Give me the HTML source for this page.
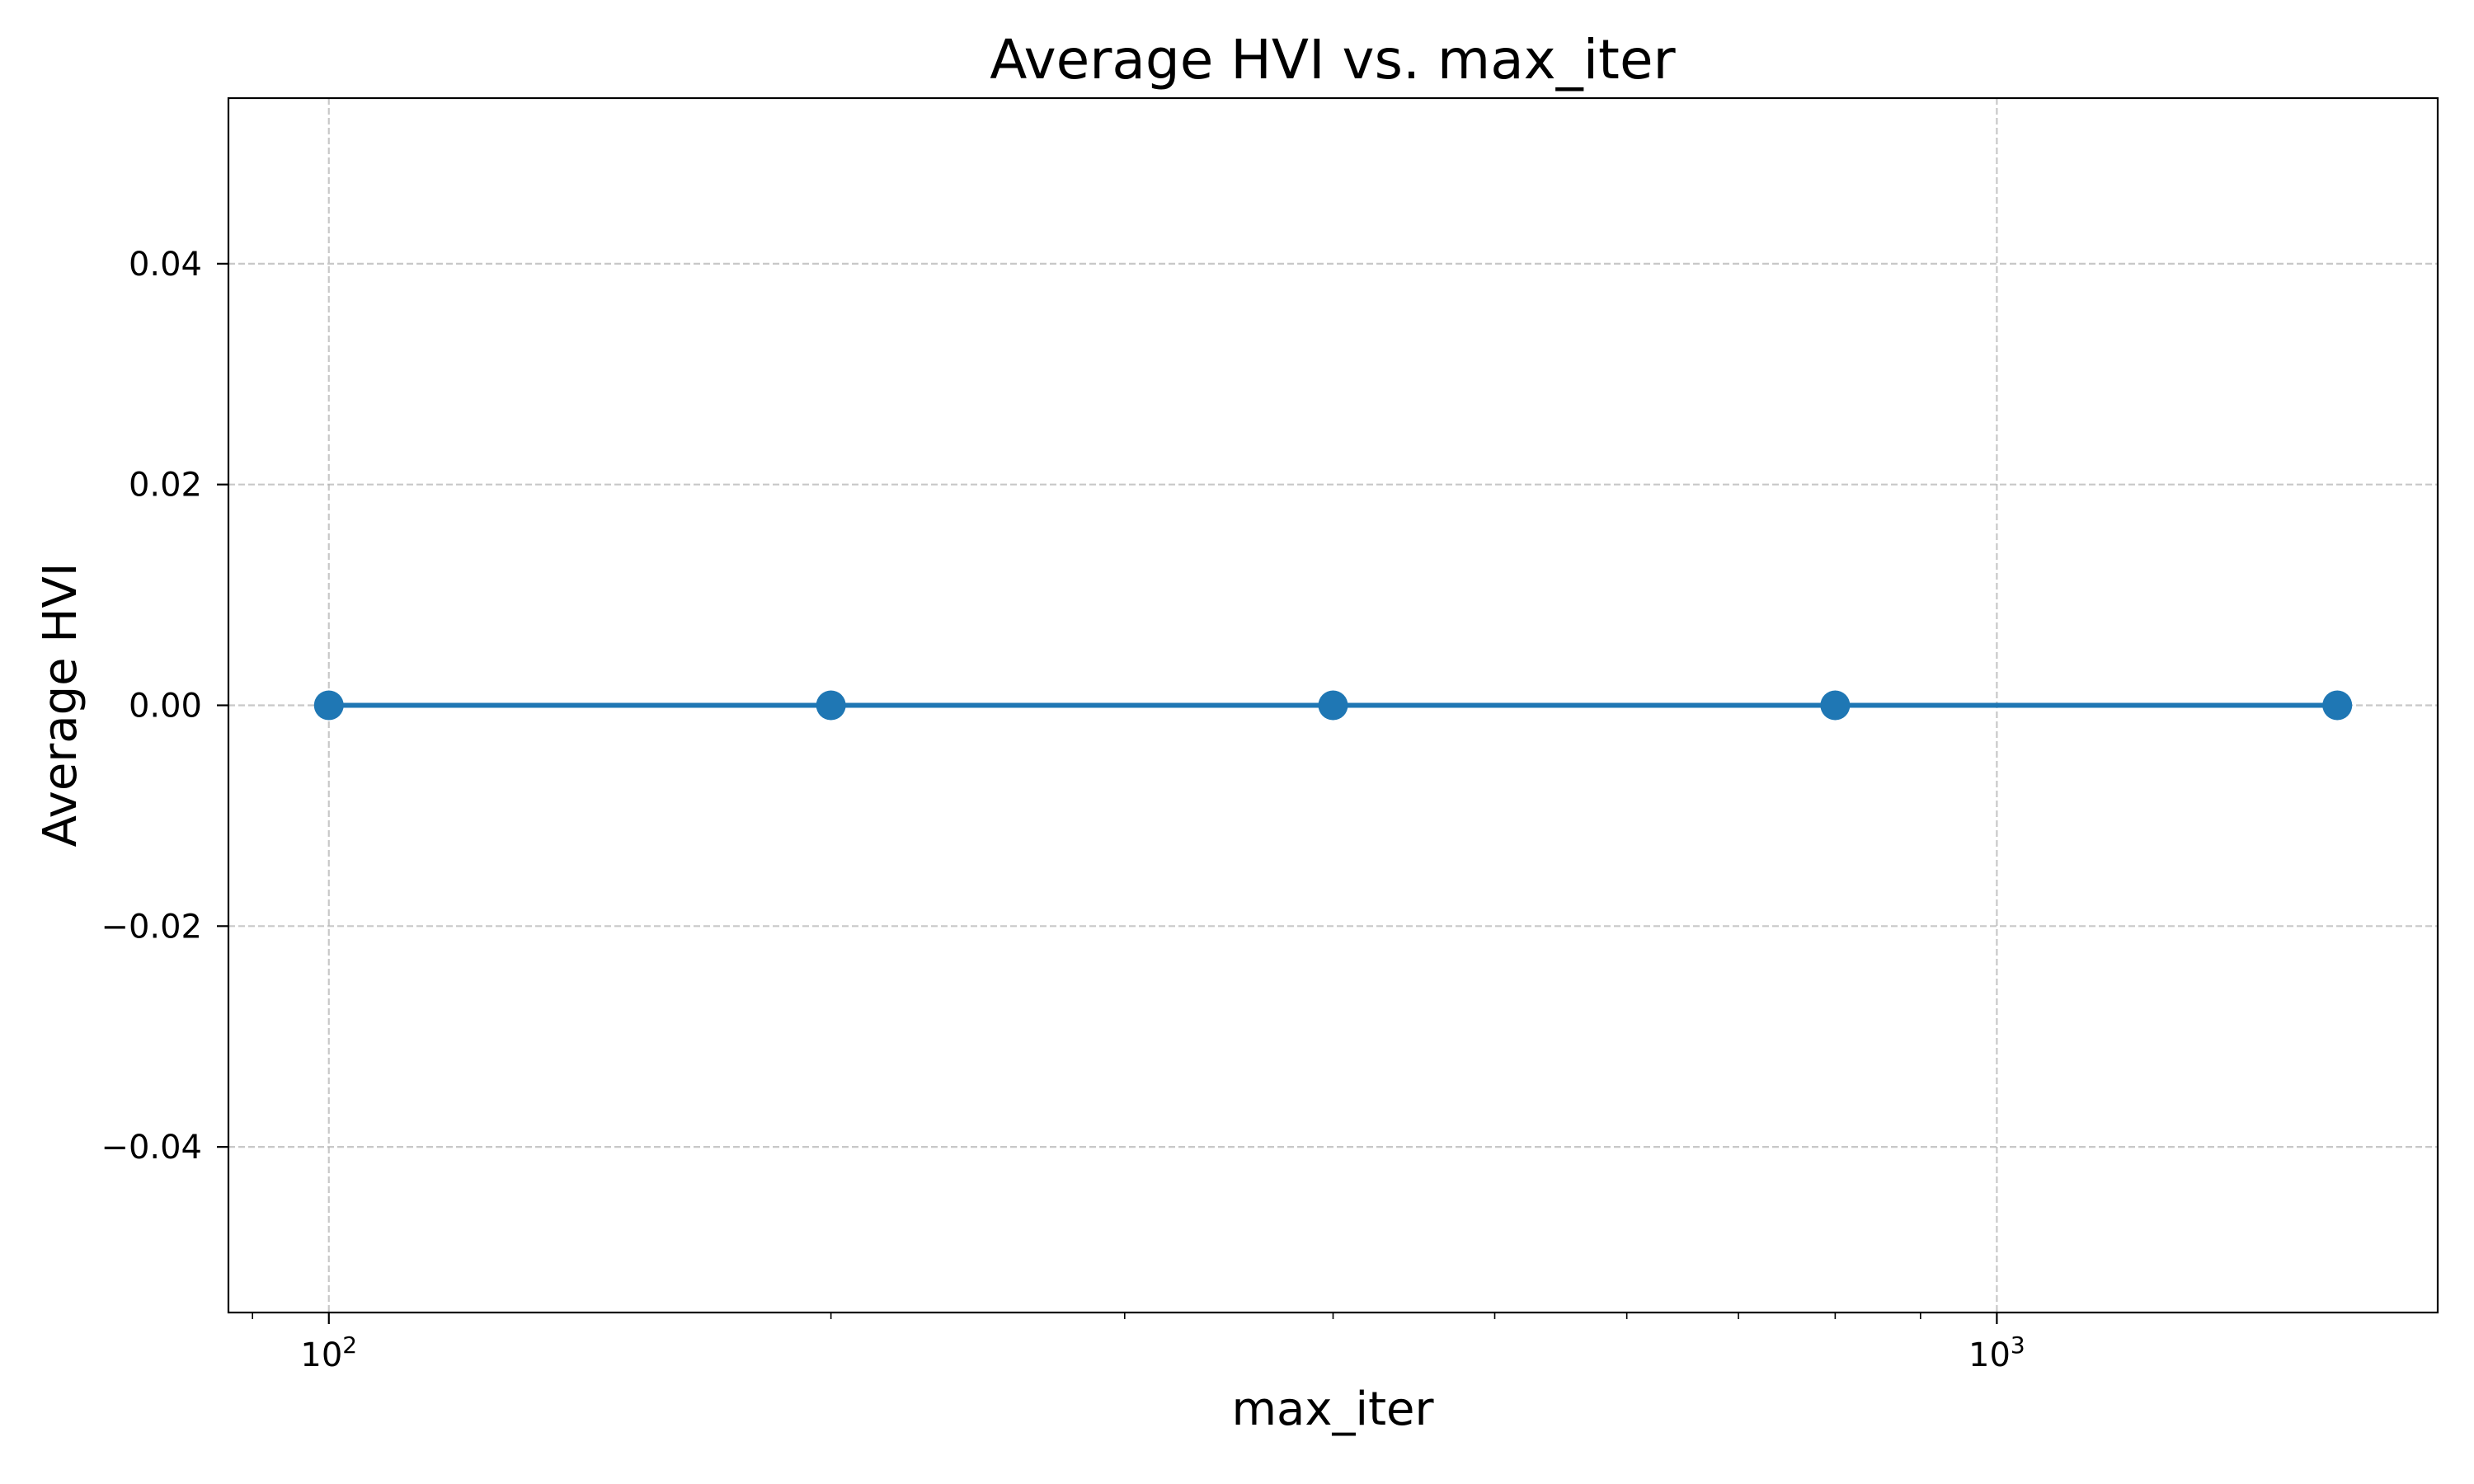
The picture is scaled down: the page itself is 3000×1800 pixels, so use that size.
<!DOCTYPE html>
<html><head><meta charset="utf-8"><style>
html,body{margin:0;padding:0;background:#fff;}
svg{display:block;font-family:"DejaVu Sans","Liberation Sans",sans-serif;}
</style></head><body>
<svg id="chart" width="3000" height="1800" viewBox="0 0 3000 1800">
<rect x="0" y="0" width="3000" height="1800" fill="#fff"/>
<g id="grid"></g>
<g id="ticks"></g>
<g id="series"></g>
<rect x="277" y="119" width="2679" height="1473" fill="none" stroke="#000" stroke-width="2.2"/>
<text x="1616" y="95" font-size="66" text-anchor="middle">Average HVI vs. max_iter</text>
<text x="1616" y="1728" font-size="56" text-anchor="middle">max_iter</text>
<text transform="translate(92,855) rotate(-90)" font-size="56" text-anchor="middle">Average HVI</text>
</svg>
<script>
const xValues=[100,200,400,800,1600];
const yValues=[0,0,0,0,0];
const yTicks=[-0.04,-0.02,0,0.02,0.04];
const yTickLabels=["\u22120.04","\u22120.02","0.00","0.02","0.04"];
const xMajorTicks=[100,1000];
const xMajorLabels=["2","3"];
const L=277,R=2956,T=119,B=1592;
const lmin=Math.log10(100)-0.0602, lmax=Math.log10(1600)+0.0602;
const ymin=-0.055,ymax=0.055;
function sx(v){return L+(Math.log10(v)-lmin)/(lmax-lmin)*(R-L);}
function sy(v){return B-(v-ymin)/(ymax-ymin)*(B-T);}
const NS="http://www.w3.org/2000/svg";
function mk(tag,attrs,parent){const e=document.createElementNS(NS,tag);for(const k in attrs)e.setAttribute(k,attrs[k]);parent.appendChild(e);return e;}
const grid=document.getElementById('grid'),ticks=document.getElementById('ticks'),ser=document.getElementById('series');
yTicks.forEach((v,i)=>{const y=sy(v);
 const g=mk('line',{x1:L,x2:R,y1:y,y2:y,stroke:'#b0b0b0','stroke-width':2.2,'stroke-dasharray':'8,4','stroke-opacity':0.7},grid);
 
 
 const t=mk('line',{x1:L-14,x2:L,y1:y,y2:y,stroke:'#000','stroke-width':2.2},ticks);
 
 
 const tx=mk('text',{x:L-32,y:y+14,'font-size':40,'text-anchor':'end'},ticks);tx.textContent=yTickLabels[i];
 
 
});
xMajorTicks.forEach((v,i)=>{const x=sx(v);
 const g=mk('line',{x1:x,x2:x,y1:T,y2:B,stroke:'#b0b0b0','stroke-width':2.2,'stroke-dasharray':'8,4','stroke-opacity':0.7},grid);
 
 
 const t=mk('line',{x1:x,x2:x,y1:B,y2:B+14,stroke:'#000','stroke-width':2.2},ticks);
 
 
 const tx=mk('text',{x:x,y:1657,'font-size':40,'text-anchor':'middle'},ticks);
 
 
 const a=mk('tspan',{},tx);a.textContent='10';
 const b=mk('tspan',{'font-size':28,dy:-16},tx);b.textContent=xMajorLabels[i];
});
for(let d=10;d<=1000;d*=10){for(let m=2;m<=9;m++){const v=d*m;const lv=Math.log10(v);if(lv<lmin||lv>lmax)continue;const x=sx(v);
 const t=mk('line',{x1:x,x2:x,y1:B,y2:B+8,stroke:'#000','stroke-width':1.6},ticks);
 
 }}
const pts=xValues.map((v,i)=>sx(v)+','+sy(yValues[i])).join(' ');
const pl=mk('polyline',{points:pts,fill:'none',stroke:'#1f77b4','stroke-width':6},ser);


xValues.forEach((v,i)=>{const c=mk('circle',{cx:sx(v),cy:sy(yValues[i]),r:18,fill:'#1f77b4'},ser);
 
 });
</script>
</body></html>
